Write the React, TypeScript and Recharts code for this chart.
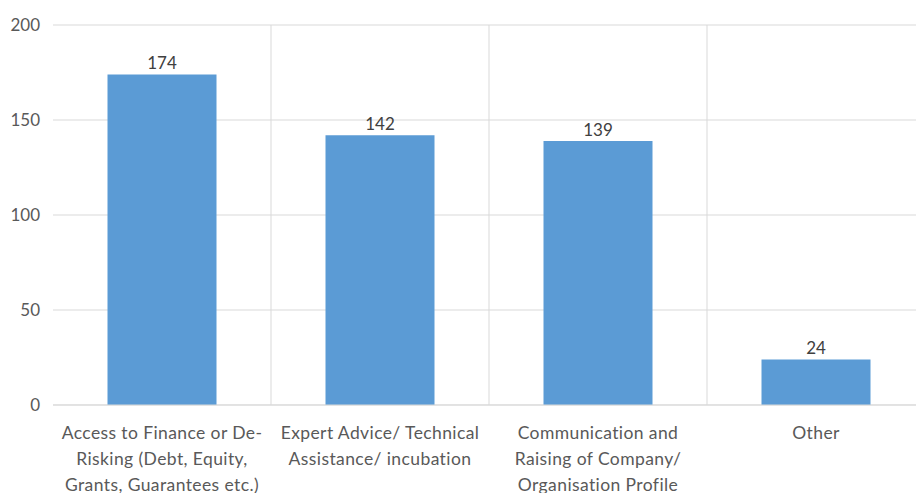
import React from "react";
import { BarChart, Bar, XAxis, YAxis, CartesianGrid, LabelList } from "recharts";

const categories = [
  "Access to Finance or De-Risking (Debt, Equity, Grants, Guarantees etc.)",
  "Expert Advice/ Technical Assistance/ incubation",
  "Communication and Raising of Company/ Organisation Profile",
  "Other",
];
const tickLines = [
  ["Access to Finance or De-", "Risking (Debt, Equity,", "Grants, Guarantees etc.)"],
  ["Expert Advice/ Technical", "Assistance/ incubation"],
  ["Communication and", "Raising of Company/", "Organisation Profile"],
  ["Other"],
];
const values = [174, 142, 139, 24];
const yTicks = [0, 50, 100, 150, 200];

const data = categories.map((c, i) => ({ name: c, value: values[i], lines: tickLines[i] }));

const FONT = "Lato, 'Open Sans', sans-serif";
const TEXT = "#595959";

const XTick = (props: any) => {
  const { x, y, index } = props;
  const lines = tickLines[index] || [];
  return (
    <text
      x={x}
      y={y}
      textAnchor="middle"
      fill={TEXT}
      fontSize={17.5}
      letterSpacing={0.4}
      fontFamily={FONT}
    >
      {lines.map((l: string, i: number) => (
        <tspan key={i} x={x} dy={i === 0 ? 34 : 26}>
          {l}
        </tspan>
      ))}
    </text>
  );
};

export default function App() {
  return (
    <div
      style={{
        position: "fixed",
        top: 0,
        left: 0,
        width: 916,
        height: 493,
        overflow: "hidden",
        background: "#fff",
      }}
    >
      <BarChart
        width={925}
        height={520}
        data={data}
        margin={{ top: 25, right: 0, bottom: 25, left: 0 }}
        barCategoryGap="25%"
      >
        <CartesianGrid
          stroke="#d9d9d9"
          verticalCoordinatesGenerator={({ offset }: any) =>
            [1, 2, 3, 4].map((i) => offset.left + (i * offset.width) / categories.length)
          }
        />
        <XAxis
          dataKey="name"
          tick={<XTick />}
          interval={0}
          tickLine={false}
          tickSize={0}
          tickMargin={0}
          height={90}
          axisLine={{ stroke: "#d9d9d9" }}
        />
        <YAxis
          width={53}
          domain={[0, 200]}
          ticks={yTicks}
          axisLine={false}
          tickLine={false}
          tickSize={6}
          tickMargin={7}
          tick={{ fill: TEXT, fontSize: 17, fontFamily: FONT }}
        />
        <Bar dataKey="value" fill="#5B9BD5" isAnimationActive={false}>
          <LabelList
            dataKey="value"
            position="top"
            offset={5}
            fill="#404040"
            fontSize={17}
            fontFamily={FONT}
          />
        </Bar>
      </BarChart>
    </div>
  );
}
